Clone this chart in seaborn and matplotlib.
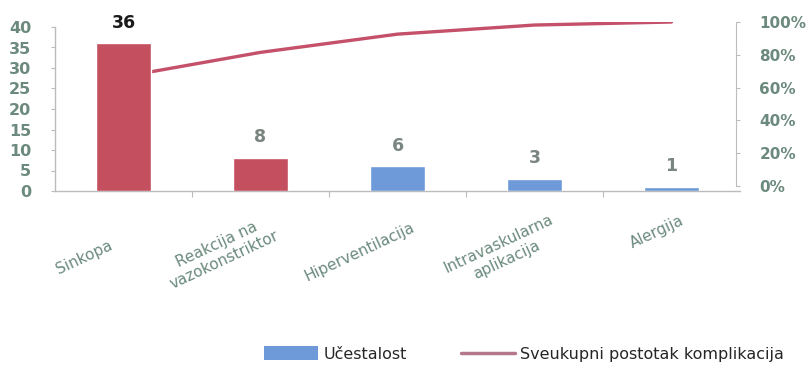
import matplotlib
matplotlib.use("Agg")
import matplotlib.pyplot as plt
import matplotlib.transforms as mtransforms
from matplotlib.patches import Patch
from matplotlib.lines import Line2D
import numpy as np
import pandas as pd
import seaborn as sns

# Complications and their counts
categories = ["Sinkopa", "Reakcija na\nvazokonstriktor", "Hiperventilacija",
              "Intravaskularna\naplikacija", "Alergija"]
counts = [36, 8, 6, 3, 1]
bar_colors = ["#c44f5f", "#c44f5f", "#6e9ad9", "#6e9ad9", "#6e9ad9"]
left_ticks = [0, 5, 10, 15, 20, 25, 30, 35, 40]
right_ticks = [0, 0.2, 0.4, 0.6, 0.8, 1.0]
right_tick_labels = ["0%", "20%", "40%", "60%", "80%", "100%"]
legend_labels = ["Učestalost", "Sveukupni postotak komplikacija"]

cumulative = np.cumsum(counts) / np.sum(counts)
df = pd.DataFrame({"kat": categories, "n": counts, "kum": cumulative})

sns.set_style("white")
plt.rcParams["font.family"] = ["DejaVu Sans"]

W, H = 809, 373
fig = plt.figure(figsize=(W / 100, H / 100), dpi=100)

tick_col = "#6b8a7d"
spine_col = "#bcbcbc"

# primary axes (counts)
ax = fig.add_axes([55 / W, (H - 191) / H, (740 - 55) / W, 164 / H])
# secondary axes (cumulative share) – slightly offset scale
ax2 = fig.add_axes([55 / W, (H - 186) / H, (740 - 55) / W, 164 / H], sharex=ax)

sns.barplot(data=df, x="kat", y="n", hue="kat", palette=bar_colors,
            legend=False, width=0.4, ax=ax, saturation=1, zorder=3)
sns.lineplot(x=np.arange(len(categories)), y=df["kum"], ax=ax2,
             color="#c4506a", linewidth=2.4, sort=False)

# bars drawn above the line
ax.set_zorder(ax2.get_zorder() + 1)
ax.patch.set_visible(False)

ax.set_xlim(-0.5, len(categories) - 0.5)
ax.set_ylim(0, 40)
ax.set_yticks(left_ticks)
ax.set_xlabel("")
ax.set_ylabel("")
for s in ["top", "right"]:
    ax.spines[s].set_visible(False)
for s in ["left", "bottom"]:
    ax.spines[s].set_color(spine_col)
    ax.spines[s].set_linewidth(1.0)
ax.tick_params(axis="y", which="major", left=True, length=3, width=0.8,
               color=spine_col, labelcolor=tick_col, labelsize=11.5, pad=14)
for lab in ax.get_yticklabels():
    lab.set_fontweight("semibold")

# category separators on the x axis
ax.set_xticks(np.arange(len(categories) - 1) + 0.5, minor=True)
ax.tick_params(axis="x", which="minor", bottom=True, length=4, width=0.8,
               color=spine_col)
ax.set_xticks(np.arange(len(categories)))
ax.set_xticklabels(categories, rotation=25, ha="center", va="center",
                   multialignment="center")
ax.tick_params(axis="x", which="major", length=0, pad=44,
               labelcolor=tick_col, labelsize=11)
label_shift_px = [(-39, -5), (-40, 0), (-38, 0), (-32, 0), (-15, 20)]
for lab, (dx, dy) in zip(ax.get_xticklabels(), label_shift_px):
    lab.set_transform(lab.get_transform() +
                      mtransforms.ScaledTranslation(dx / 100, dy / 100,
                                                    fig.dpi_scale_trans))

# value labels above bars
for i, v in enumerate(counts):
    ax.annotate(str(v), (i, v), xytext=(0, 15), textcoords="offset points",
                ha="center", va="center", fontsize=12.5, fontweight="bold",
                color="#1a1a1a" if i == 0 else "#7a8580")

# right axis
ax2.set_ylim(0, 1.0)
ax2.patch.set_visible(False)
ax2.yaxis.tick_right()
ax2.set_yticks(right_ticks)
ax2.set_yticklabels(right_tick_labels)
ax2.set_ylabel("")
ax2.set_xlabel("")
for s in ["top", "left", "bottom"]:
    ax2.spines[s].set_visible(False)
ax2.spines["right"].set_color(spine_col)
ax2.spines["right"].set_position(("outward", -3))
ax2.tick_params(axis="y", right=True, length=3, width=0.8, color=spine_col,
                labelcolor=tick_col, labelsize=11, pad=14)
ax2.tick_params(axis="x", bottom=False, labelbottom=False)
for lab in ax2.get_yticklabels():
    lab.set_fontweight("semibold")

handles = [Patch(facecolor="#6e9ad9", edgecolor="none"),
           Line2D([0], [0], color="#b5788a", linewidth=2.5)]
fig.legend(handles, legend_labels, loc="center",
           bbox_to_anchor=(524 / W, 1 - 354 / H), ncol=2, frameon=False,
           handlelength=3.4, handleheight=0.9,
           columnspacing=3.4, handletextpad=0.3,
           prop={"family": ["Liberation Sans Narrow", "DejaVu Sans"],
                 "size": 11.5})

fig.savefig("out.png", dpi=100, facecolor="white")
